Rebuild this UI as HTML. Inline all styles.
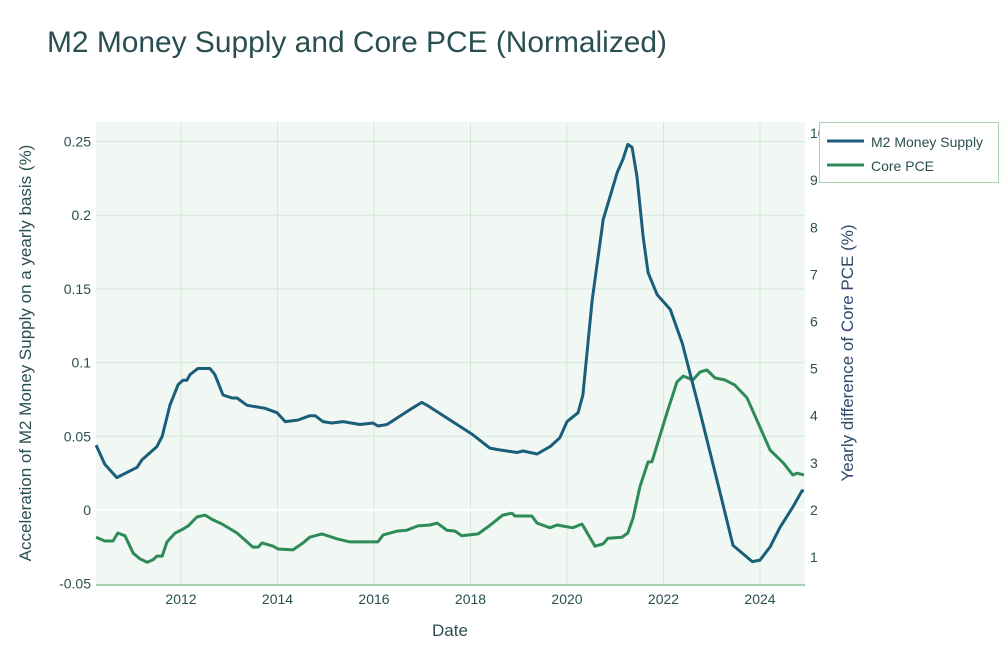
<!DOCTYPE html>
<html><head><meta charset="utf-8"><style>
body{margin:0;background:#fff;font-family:"Liberation Sans",Arial,sans-serif}
svg text{font-family:"Liberation Sans",Arial,sans-serif}
</style></head><body>
<svg id="chart" width="1000" height="642" xmlns="http://www.w3.org/2000/svg">
<text x="47" y="52" font-size="30" fill="#2a4f50" textLength="620" lengthAdjust="spacingAndGlyphs">M2 Money Supply and Core PCE (Normalized)</text>
<rect x="96" y="122" width="709" height="463" fill="#f1f8f4"/>
<g id="grid"></g>
<g id="axes"></g>
<g id="series"></g>
<text transform="translate(31,353) rotate(-90)" text-anchor="middle" font-size="17" fill="#2a4f50">Acceleration of M2 Money Supply on a yearly basis (%)</text>
<text transform="translate(853,353) rotate(-90)" text-anchor="middle" font-size="17" fill="#2f4a6b">Yearly difference of Core PCE (%)</text>
<text x="450" y="636" text-anchor="middle" font-size="17" fill="#2a4f50">Date</text>
<g>
<rect x="819.5" y="122.5" width="179" height="60" fill="#fff" stroke="#a9d1ae" stroke-width="1"/>
<g><line x1="827" y1="141" x2="864" y2="141" stroke="#1a5e7a" stroke-width="3"/><text x="871" y="147" font-size="14" fill="#2a4f50">M2 Money Supply</text></g>
<g><line x1="827" y1="165" x2="864" y2="165" stroke="#2e8b57" stroke-width="3"/><text x="871" y="171" font-size="14" fill="#2a4f50">Core PCE</text></g>
</g>
</svg>
<script>
const m2Dates=[2010.24,2010.42,2010.67,2011.09,2011.19,2011.50,2011.61,2011.77,2011.94,2012.04,2012.12,2012.19,2012.35,2012.60,2012.70,2012.81,2012.87,2013.06,2013.16,2013.37,2013.74,2013.99,2014.16,2014.42,2014.67,2014.78,2014.94,2015.13,2015.36,2015.71,2015.98,2016.08,2016.27,2016.79,2016.99,2017.10,2018.05,2018.40,2018.57,2018.96,2019.09,2019.38,2019.65,2019.85,2020.00,2020.23,2020.33,2020.52,2020.75,2021.04,2021.16,2021.26,2021.35,2021.45,2021.58,2021.68,2021.87,2022.14,2022.39,2022.76,2023.17,2023.44,2023.84,2024.00,2024.21,2024.41,2024.68,2024.87,2024.91];
const m2Values=[0.044,0.031,0.022,0.029,0.034,0.043,0.050,0.071,0.085,0.088,0.088,0.092,0.096,0.096,0.092,0.083,0.078,0.076,0.076,0.071,0.069,0.066,0.060,0.061,0.064,0.064,0.060,0.059,0.060,0.058,0.059,0.057,0.058,0.069,0.073,0.071,0.051,0.042,0.041,0.039,0.040,0.038,0.043,0.049,0.060,0.066,0.078,0.142,0.197,0.229,0.238,0.248,0.246,0.226,0.185,0.161,0.146,0.136,0.113,0.066,0.012,-0.024,-0.035,-0.034,-0.025,-0.012,0.002,0.013,0.013];
const pceDates=[2010.24,2010.42,2010.59,2010.69,2010.84,2011.01,2011.15,2011.30,2011.42,2011.50,2011.61,2011.71,2011.88,2012.04,2012.15,2012.33,2012.50,2012.66,2012.85,2013.16,2013.49,2013.60,2013.68,2013.91,2014.01,2014.32,2014.53,2014.67,2014.92,2015.25,2015.50,2016.08,2016.19,2016.48,2016.68,2016.91,2017.16,2017.31,2017.51,2017.68,2017.82,2018.16,2018.36,2018.67,2018.86,2018.92,2019.27,2019.38,2019.65,2019.79,2020.12,2020.31,2020.58,2020.75,2020.85,2021.14,2021.26,2021.37,2021.51,2021.68,2021.76,2022.07,2022.28,2022.41,2022.61,2022.76,2022.90,2023.07,2023.27,2023.48,2023.73,2024.21,2024.48,2024.68,2024.77,2024.91];
const pceValues=[1.42,1.34,1.34,1.51,1.45,1.08,0.96,0.89,0.94,1.02,1.02,1.32,1.51,1.59,1.66,1.85,1.89,1.79,1.70,1.51,1.21,1.21,1.30,1.23,1.17,1.15,1.30,1.42,1.49,1.38,1.32,1.32,1.47,1.55,1.57,1.66,1.68,1.72,1.57,1.55,1.45,1.49,1.64,1.89,1.93,1.87,1.87,1.72,1.62,1.68,1.62,1.70,1.23,1.28,1.40,1.42,1.51,1.83,2.49,3.02,3.02,4.06,4.72,4.84,4.76,4.93,4.97,4.80,4.76,4.65,4.38,3.27,3.00,2.74,2.78,2.74];
const xTicks=[2012,2014,2016,2018,2020,2022,2024];
const yLeftTicks=[-0.05,0,0.05,0.1,0.15,0.2,0.25];
const yLeftLabels=["-0.05","0","0.05","0.1","0.15","0.2","0.25"];
const yRightTicks=[1,2,3,4,5,6,7,8,9,10];

const NS="http://www.w3.org/2000/svg";
const X0=96,X1=805,Y0=122,Y1=585;
const xs=d=>84.5+(d-2010)*48.25;
const yl=v=>510-v*1474;
const yr=v=>557-(v-1)*47.1;
function mk(tag,attrs,parent){const e=document.createElementNS(NS,tag);for(const k in attrs)e.setAttribute(k,attrs[k]);parent.appendChild(e);return e;}
const grid=document.getElementById('grid'),axes=document.getElementById('axes'),ser=document.getElementById('series');
xTicks.forEach(t=>{
  const x=xs(t);
  const l=mk('line',{x1:x,x2:x,y1:Y0,y2:Y1,stroke:'#d3e7da','stroke-width':1},grid);
  
  
  const tx=mk('text',{x:x,y:604,'text-anchor':'middle','font-size':14,fill:'#2a4f50'},axes);
  tx.textContent=t;
  
  
});
yLeftTicks.forEach((t,i)=>{
  const y=yl(t);
  if(t!==0&&t!==-0.05){const l=mk('line',{x1:X0,x2:X1,y1:y,y2:y,stroke:'#d3e7da','stroke-width':1},grid);
  
  }
  const tx=mk('text',{x:91,y:y+5,'text-anchor':'end','font-size':14,fill:'#2a4f50'},axes);
  tx.textContent=yLeftLabels[i];
  
  
});
const z=mk('line',{x1:X0,x2:X1,y1:yl(0),y2:yl(0),stroke:'#ffffff','stroke-width':2},grid);


const bx=mk('line',{x1:X0,x2:X1,y1:585,y2:585,stroke:'#a9d1ae','stroke-width':2},axes);


yRightTicks.forEach(t=>{
  const tx=mk('text',{x:810,y:yr(t)+5,'font-size':14,fill:'#2a4f50'},axes);
  tx.textContent=t;
  
  
});
function line(dates,vals,yf,color,name){
  const d=dates.map((t,i)=>(i?'L':'M')+xs(t).toFixed(1)+','+yf(vals[i]).toFixed(1)).join('');
  const p=mk('path',{d:d,fill:'none',stroke:color,'stroke-width':3,'stroke-linejoin':'round'},ser);
  
  
}
line(pceDates,pceValues,yr,'#2e8b57','core-pce-line');
line(m2Dates,m2Values,yl,'#1a5e7a','m2-money-supply-line');
</script>
</body></html>
